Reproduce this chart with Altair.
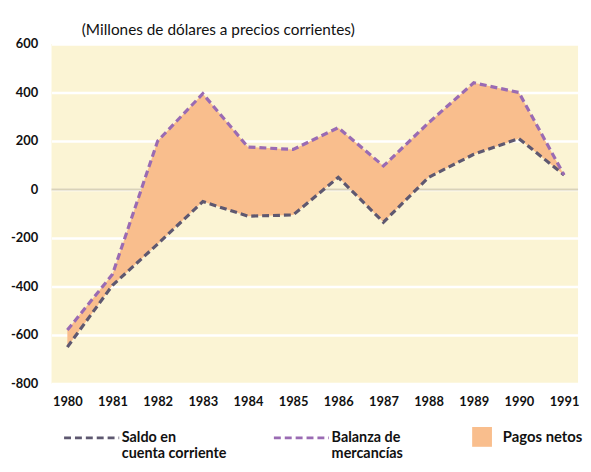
import altair as alt
import pandas as pd

years = list(range(1980, 1992))
balanza = [-580, -350, 200, 395, 175, 165, 255, 97, 275, 440, 400, 60]
saldo = [-650, -395, -225, -50, -110, -105, 50, -135, 50, 145, 210, 60]

S_NAME = "Saldo en|cuenta corriente"
B_NAME = "Balanza de|mercancías"
P_NAME = "Pagos netos"

rows = []
for y, b, s in zip(years, balanza, saldo):
    rows.append({"year": y, "serie": S_NAME, "value": s})
    rows.append({"year": y, "serie": B_NAME, "value": b})
lines_df = pd.DataFrame(rows)
area_df = pd.DataFrame({"year": years, "upper": balanza, "lower": saldo, "pagos": P_NAME})

FONT = "Lato"
xscale = alt.Scale(domain=[1979.65, 1991.31], nice=False, zero=False)
yscale = alt.Scale(domain=[-800, 600], nice=False)

xaxis = alt.Axis(values=years, format="d", title=None, grid=False, domain=False, ticks=False,
                 labelFont=FONT, labelFontWeight="bold", labelFontSize=13, labelColor="#111111",
                 labelPadding=12)
yaxis = alt.Axis(values=[-800, -600, -400, -200, 0, 200, 400, 600], title=None, grid=True,
                 gridColor="#ffffff", gridWidth=2.5, domain=False, ticks=False,
                 labelExpr="'' + datum.value",
                 labelFont=FONT, labelFontWeight="bold", labelFontSize=13, labelColor="#111111",
                 labelPadding=14)

area = alt.Chart(area_df).mark_area(opacity=1).encode(
    x=alt.X("year:Q", scale=xscale, axis=xaxis),
    y=alt.Y("upper:Q", scale=yscale, axis=yaxis),
    y2="lower:Q",
    fill=alt.Fill("pagos:N", scale=alt.Scale(domain=[P_NAME], range=["#F9BE8D"]),
                  legend=alt.Legend(title=None, orient="none", legendX=425, legendY=387,
                                    symbolType="square", symbolSize=400, symbolStrokeWidth=0,
                                    labelFont=FONT, labelFontSize=15, labelFontWeight="bold",
                                    labelColor="#111111", labelOffset=11)),
)

zero = alt.Chart(pd.DataFrame({"z": [0]})).mark_rule(color="#D9D2B8", strokeWidth=2).encode(
    y=alt.Y("z:Q", scale=yscale)
)

lines = alt.Chart(lines_df).mark_line(strokeWidth=3.2, strokeDash=[7, 4]).encode(
    x=alt.X("year:Q", scale=xscale),
    y=alt.Y("value:Q", scale=yscale),
    color=alt.Color("serie:N",
                    scale=alt.Scale(domain=[S_NAME, B_NAME], range=["#5E5870", "#9A6BB3"]),
                    legend=alt.Legend(title=None, orient="none", legendX=11, legendY=388,
                                      direction="horizontal", symbolType="stroke",
                                      symbolSize=3100, symbolStrokeWidth=3,
                                      symbolDash=[7, 4], columnPadding=46, clipHeight=20,
                                      labelFont=FONT, labelFontSize=14.5, labelFontWeight="bold",
                                      labelColor="#111111",
                                      labelBaseline="middle", labelOffset=1,
                                      labelExpr="split(datum.label, '|')",
                                      labelLimit=200)),
)

chart = alt.layer(zero, area, lines).properties(
    width=532,
    height=343,
    title=alt.TitleParams("(Millones de dólares a precios corrientes)", anchor="start", dx=72,
                          font=FONT, fontSize=15.5, fontWeight="normal", color="#111111", offset=0),
    padding={"left": 2, "top": 12, "right": 0, "bottom": 0},
    background="#ffffff",
).configure_view(fill="#FBF4D4", stroke=None)

chart.save("out.html", embed_options={"renderer": "svg", "actions": False})
